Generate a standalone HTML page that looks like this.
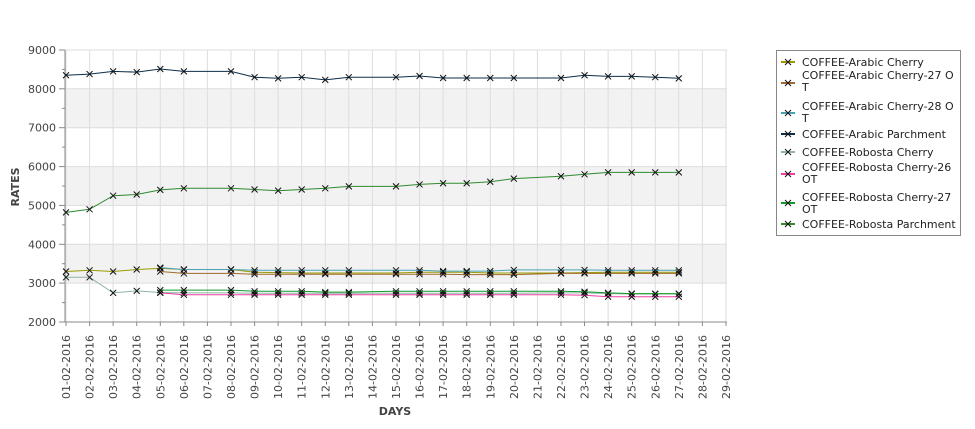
<!DOCTYPE html>
<html><head><meta charset="utf-8"><style>body{margin:0;background:#fff}svg{display:block}</style></head>
<body>
<svg id="s" width="975" height="429" xmlns="http://www.w3.org/2000/svg" font-family="DejaVu Sans, sans-serif">
<rect x="65" y="89" width="662" height="39" fill="#f2f2f2"/>
<rect x="65" y="167" width="662" height="38" fill="#f2f2f2"/>
<rect x="65" y="244" width="662" height="39" fill="#f2f2f2"/>
<g id="grid" stroke="#dddddd" stroke-width="1"></g>
<g id="ax" stroke="#888" stroke-width="1"></g>
<g id="lbl" font-size="11" fill="#444"></g>
<g id="ser"></g>
<text x="0" y="0" transform="translate(19,187) rotate(-90)" text-anchor="middle" font-size="11" font-weight="bold" fill="#444">RATES</text>
<text x="395" y="415" text-anchor="middle" font-size="11" font-weight="bold" fill="#444">DAYS</text>
<rect x="776.5" y="50.5" width="184" height="185" fill="#fff" stroke="#888"/>
<g id="leg" font-size="11" fill="#222"></g>
</svg>
<script>
const NS="http://www.w3.org/2000/svg";
function el(p,t,a,txt){const e=document.createElementNS(NS,t);for(const k in a)e.setAttribute(k,a[k]);if(txt!=null)e.textContent=txt;document.getElementById(p).appendChild(e);return e;}
const X=d=>66+(d-1)*23.57, Y=v=>322-(v-2000)*0.03886;
for(let d=1;d<=29;d++){const x=X(d).toFixed(1);el('grid','line',{x1:x,x2:x,y1:50,y2:322});el('ax','line',{x1:x,x2:x,y1:322,y2:326});
 const lab=(d<10?'0':'')+d+'-02-2016';el('lbl','text',{transform:`translate(${+x+4},335) rotate(-90)`,'text-anchor':'end'},lab);}
for(let v=2000;v<=9000;v+=1000){const y=Y(v).toFixed(1);el('grid','line',{x1:65,x2:727,y1:y,y2:y});el('ax','line',{x1:59,x2:65,y1:y,y2:y});el('lbl','text',{x:56,y:+y+4,'text-anchor':'end'},v);}
for(let v=2500;v<9000;v+=1000){const y=Y(v).toFixed(1);el('ax','line',{x1:62,x2:65,y1:y,y2:y});}
el('ax','line',{x1:65,x2:65,y1:50,y2:322});el('ax','line',{x1:65,x2:727,y1:322,y2:322});
const D=[1,2,3,4,5,6,8,9,10,11,12,13,15,16,17,18,19,20,22,23,24,25,26,27];
const D5=D.slice(4);
const S=[
["COFFEE-Arabic Cherry","#9a9a00",D,[3300,3330,3300,3350,3380,3350,3350,3280,3270,3260,3260,3260,3260,3280,3280,3280,3260,3260,3260,3270,3280,3280,3280,3280]],
["COFFEE-Arabic Cherry-27 OT","#a0692d",D5,[3300,3250,3250,3230,3230,3230,3230,3230,3230,3230,3230,3220,3220,3220,3250,3250,3250,3250,3250,3250]],
["COFFEE-Arabic Cherry-28 OT","#4aa3b5",D5,[3400,3350,3350,3330,3330,3330,3330,3330,3330,3330,3310,3310,3310,3340,3340,3340,3330,3330,3330,3330]],
["COFFEE-Arabic Parchment","#0b2e4a",D,[8350,8380,8450,8430,8510,8450,8450,8300,8270,8300,8230,8300,8300,8330,8280,8280,8280,8280,8280,8350,8320,8320,8300,8270]],
["COFFEE-Robosta Cherry","#8fb5a5",D,[3150,3150,2750,2800,2760,2750,2750,2740,2740,2740,2740,2740,2740,2740,2740,2740,2740,2740,2750,2750,2730,2720,2720,2720]],
["COFFEE-Robosta Cherry-26 OT","#ee3fa0",D5,[2750,2700,2700,2700,2700,2700,2700,2700,2700,2700,2700,2700,2700,2700,2700,2690,2650,2650,2650,2650]],
["COFFEE-Robosta Cherry-27 OT","#0f9a2a",D5,[2820,2820,2820,2790,2790,2790,2770,2770,2790,2790,2790,2790,2790,2790,2790,2780,2750,2730,2730,2730]],
["COFFEE-Robosta Parchment","#2e8b2e",D,[4820,4900,5250,5280,5400,5440,5440,5410,5380,5410,5440,5490,5490,5540,5570,5570,5610,5690,5750,5800,5850,5850,5850,5850]]];
S.forEach(([n,c,ds,vs])=>{el('ser','polyline',{points:ds.map((d,i)=>X(d).toFixed(1)+','+Y(vs[i]).toFixed(1)).join(' '),fill:'none',stroke:c,'stroke-width':1});
 ds.forEach((d,i)=>{const x=X(d),y=Y(vs[i]);el('ser','path',{d:`M${x-3},${y-3}L${x+3},${y+3}M${x-3},${y+3}L${x+3},${y-3}`,stroke:'#111','stroke-width':1});});});
const L=[[62,62,["COFFEE-Arabic Cherry"]],[75,83,["COFFEE-Arabic Cherry-27 O","T"]],[106,113,["COFFEE-Arabic Cherry-28 O","T"]],[134,134,["COFFEE-Arabic Parchment"]],[152,152,["COFFEE-Robosta Cherry"]],[167,174,["COFFEE-Robosta Cherry-26","OT"]],[197,203,["COFFEE-Robosta Cherry-27","OT"]],[224,224,["COFFEE-Robosta Parchment"]]];
L.forEach(([y,iy,ls],i)=>{const c=S[i][1];
 el('leg','line',{x1:781,x2:795,y1:iy,y2:iy,stroke:c,'stroke-width':2});
 el('leg','path',{d:`M785,${iy-3}L791,${iy+3}M785,${iy+3}L791,${iy-3}`,stroke:'#111','stroke-width':1});
 ls.forEach((t,j)=>el('leg','text',{x:802,y:y+4+j*12},t));});
</script>
</body></html>
